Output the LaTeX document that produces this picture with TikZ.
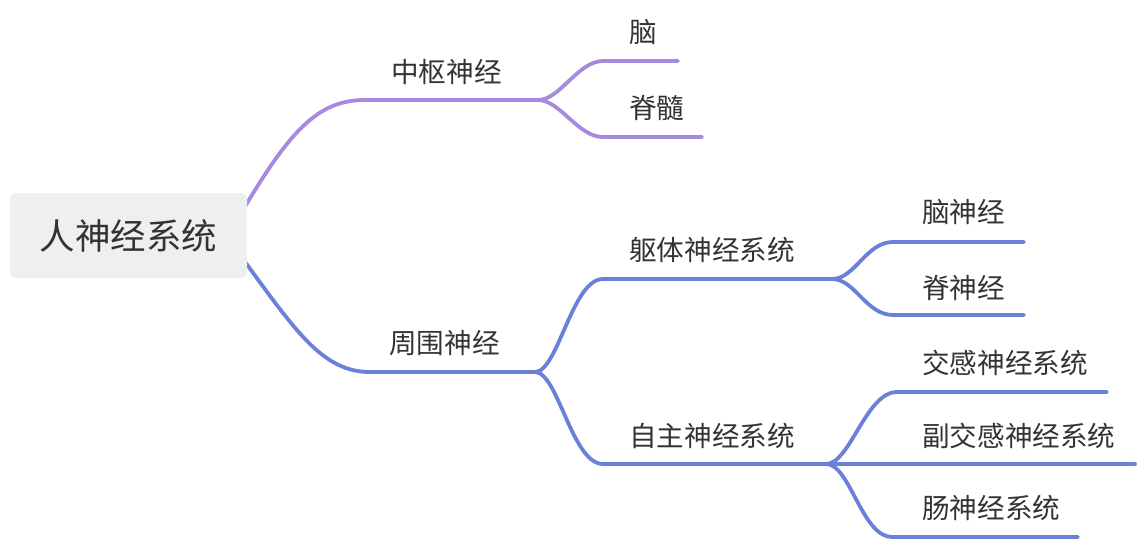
\documentclass[tikz,border=0pt]{standalone}
\usepackage{fontspec}
\setmainfont{Noto Sans CJK SC}
\definecolor{cpurple}{HTML}{A68ADF}
\definecolor{cblue}{HTML}{6B80D8}
\definecolor{rootfill}{HTML}{EEF0F0}
\definecolor{txt}{HTML}{333333}
\begin{document}
\begin{tikzpicture}[x=1pt,y=-1pt,
  lbl/.style={anchor=west,inner sep=0pt,text=txt,font=\fontsize{27.6}{32}\selectfont},
  rootbox/.style={draw=none,fill=rootfill,rounded corners=6pt,minimum width=237pt,minimum height=85pt,text=txt,font=\fontsize{35.5}{42}\selectfont},
  pline/.style={draw=cpurple,line width=3.8pt,line cap=round},
  bline/.style={draw=cblue,line width=3.8pt,line cap=round}]
\useasboundingbox (0,0) rectangle (1142,542);
% coordinates of underlines
\coordinate (rp) at (240,215);
\coordinate (rb) at (240,255);
\coordinate (c1) at (365,100); \coordinate (c2) at (538,100);
\coordinate (n1) at (603,61); \coordinate (n2) at (678,61);
\coordinate (s1) at (603,137); \coordinate (s2) at (702,137);
\coordinate (p1) at (370,372); \coordinate (p2) at (535,372);
\coordinate (q1) at (603,279); \coordinate (q2) at (832,279);
\coordinate (a1) at (893,242); \coordinate (a2) at (1024,242);
\coordinate (b1) at (893,315); \coordinate (b2) at (1024,315);
\coordinate (z1) at (603,464); \coordinate (z2) at (826,464);
\coordinate (j1) at (897,392); \coordinate (j2) at (1107,392);
\coordinate (f2) at (1135,464);
\coordinate (g1) at (892,537); \coordinate (g2) at (1078,537);
% connectors
\draw[pline] (rp) .. controls (290,130) and (318,100) .. (c1) -- (c2);
\draw[pline] (c2) .. controls (560,100) and (578,61) .. (n1) -- (n2);
\draw[pline] (c2) .. controls (560,100) and (578,137) .. (s1) -- (s2);
\draw[bline] (rb) .. controls (295,330) and (322,372) .. (p1) -- (p2);
\draw[bline] (p2) .. controls (558,372) and (572,279) .. (q1) -- (q2);
\draw[bline] (p2) .. controls (558,372) and (572,464) .. (z1) -- (z2);
\draw[bline] (q2) .. controls (855,279) and (866,242) .. (a1) -- (a2);
\draw[bline] (q2) .. controls (855,279) and (866,315) .. (b1) -- (b2);
\draw[bline] (z2) .. controls (850,464) and (866,392) .. (j1) -- (j2);
\draw[bline] (z2) -- (f2);
\draw[bline] (z2) .. controls (850,464) and (862,537) .. (g1) -- (g2);
% nodes
\node[rootbox] (root) at (128.5,235.5) {人神经系统};
\node[lbl] (zs) at (391,72) {中枢神经};
\node[lbl] (nao) at (629,32) {脑};
\node[lbl] (jisui) at (629,108) {脊髓};
\node[lbl] (zw) at (389,343) {周围神经};
\node[lbl] (qt) at (629,250) {躯体神经系统};
\node[lbl] (nsj) at (922,212) {脑神经};
\node[lbl] (jsj) at (922,288) {脊神经};
\node[lbl] (zz) at (629,436) {自主神经系统};
\node[lbl] (jg) at (922,363) {交感神经系统};
\node[lbl] (fjg) at (922,436) {副交感神经系统};
\node[lbl] (cs) at (922,508) {肠神经系统};
\end{tikzpicture}
\end{document}
